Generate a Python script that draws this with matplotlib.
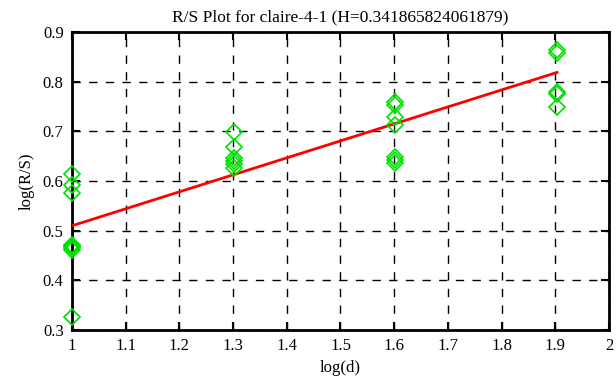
import matplotlib
matplotlib.use("Agg")
import matplotlib.pyplot as plt
import numpy as np

title = "R/S Plot for claire-4-1 (H=0.341865824061879)"
x_vals = [1.0]*9 + [1.30103]*6 + [1.60206]*7 + [1.90309]*5
y_vals = [0.614, 0.592, 0.575, 0.472, 0.468, 0.465, 0.462, 0.470, 0.327,
          0.699, 0.669, 0.647, 0.640, 0.635, 0.627,
          0.759, 0.753, 0.729, 0.712, 0.649, 0.642, 0.636,
          0.864, 0.857, 0.780, 0.776, 0.750]
H = 0.341865824061879
intercept = 0.168
fit_x = [1.0, 1.90309]

plt.rcParams['font.family'] = ['Liberation Serif', 'DejaVu Serif']
fig = plt.figure(figsize=(6.16, 3.87), dpi=100)
ax = fig.add_axes([0.1169, 0.1473, 0.8717, 0.7700])

ax.plot(x_vals, y_vals, linestyle='none', marker='D', markersize=8,
        markerfacecolor='none', markeredgecolor='#00e000', markeredgewidth=1.2,
        zorder=5, clip_on=False)
fx = np.array(fit_x)
ax.plot(fx, intercept + H*fx, color='#ff0000', linewidth=2, zorder=4)

ax.set_xlim(1, 2)
ax.set_ylim(0.3, 0.9)
ax.set_xticks(np.arange(1, 2.01, 0.1))
ax.set_xticklabels(['1', '1.1', '1.2', '1.3', '1.4', '1.5', '1.6', '1.7', '1.8', '1.9', '2'])
ax.set_yticks(np.arange(0.3, 0.91, 0.1))
ax.set_yticklabels(['0.3', '0.4', '0.5', '0.6', '0.7', '0.8', '0.9'])
ax.grid(True, color='black', linestyle=(0, (6, 6)), linewidth=1)
ax.tick_params(direction='in', top=True, right=True, length=6, width=1.5, labelsize=12, pad=6)
for s in ax.spines.values():
    s.set_linewidth(2)
ax.set_xlabel('log(d)', fontsize=12, labelpad=4)
ax.set_ylabel('log(R/S)', fontsize=12, labelpad=6)
ax.set_title(title, fontsize=12.5, pad=8)

fig.savefig('out.png', dpi=100)
